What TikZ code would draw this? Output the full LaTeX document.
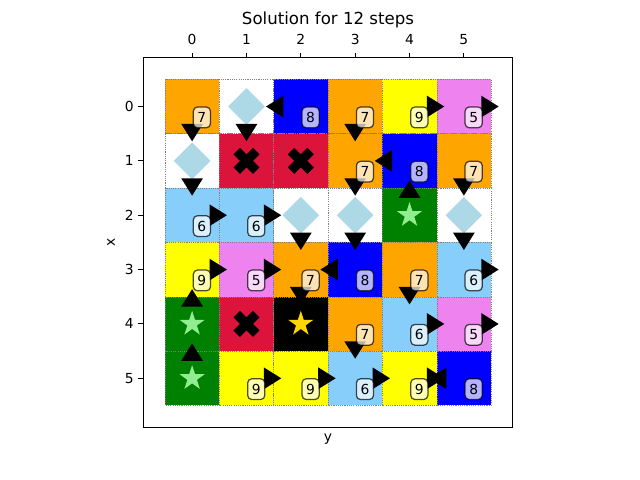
\documentclass[tikz,border=0pt]{standalone}
\usepackage{fontspec}
\setmainfont{DejaVu Sans}
\usetikzlibrary{calc}

\definecolor{mplorange}{HTML}{FFA500}
\definecolor{mplblue}{HTML}{0000FF}
\definecolor{mplyellow}{HTML}{FFFF00}
\definecolor{mplviolet}{HTML}{EE82EE}
\definecolor{mplcrimson}{HTML}{DC143C}
\definecolor{mplsky}{HTML}{87CEFA}
\definecolor{mplgreen}{HTML}{008000}
\definecolor{mpllightblue}{HTML}{ADD8E6}
\definecolor{mpllightgreen}{HTML}{90EE90}
\definecolor{mplgold}{HTML}{FFD700}

\begin{document}
\begin{tikzpicture}[
  x=1.38057cm, y=-1.38057cm,
  font=\fontsize{10}{12}\selectfont,
  cellbox/.style={draw=gray,line width=0.3pt,dash pattern=on 0.8pt off 0.8pt},
  numtag/.style={draw=black,draw opacity=0.7,fill=white,fill opacity=0.7,text opacity=1,rounded corners=3pt,line width=0.9pt,inner sep=0pt,minimum width=12.4pt,minimum height=15pt},
  pointer/.style={fill=black},
  ticklabel/.style={inner sep=0pt},
  frame/.style={draw=black,line width=0.8pt}
]
\useasboundingbox (-3.5346,-1.9597) rectangle (8.2403,6.8714);

% ===== Cells =====
\foreach \rowcols [count=\r from 0] in {
  {mplorange,white,mplblue,mplorange,mplyellow,mplviolet},
  {white,mplcrimson,mplcrimson,mplorange,mplblue,mplorange},
  {mplsky,mplsky,white,white,mplgreen,white},
  {mplyellow,mplviolet,mplorange,mplblue,mplorange,mplsky},
  {mplgreen,mplcrimson,black,mplorange,mplsky,mplviolet},
  {mplgreen,mplyellow,mplyellow,mplsky,mplyellow,mplblue}}{
  \foreach \cc [count=\c from 0] in \rowcols {
    \path[cellbox,fill=\cc] (\c-0.5,\r-0.5) rectangle (\c+0.5,\r+0.5);
  }
}

% ===== Markers =====
\foreach \c/\r in {1/0,0/1,2/2,3/2,5/2}
  \fill[mpllightblue] (\c,\r-0.337) -- (\c+0.337,\r) -- (\c,\r+0.337) -- (\c-0.337,\r) -- cycle;
\foreach \c/\r in {1/1,2/1,1/4}
  \fill[black] (\c-0.12,\r-0.24) -- (\c,\r-0.12) -- (\c+0.12,\r-0.24) -- (\c+0.24,\r-0.12)
    -- (\c+0.12,\r) -- (\c+0.24,\r+0.12) -- (\c+0.12,\r+0.24) -- (\c,\r+0.12)
    -- (\c-0.12,\r+0.24) -- (\c-0.24,\r+0.12) -- (\c-0.12,\r) -- (\c-0.24,\r-0.12) -- cycle;
\foreach \c/\r/\sc in {4/2/mpllightgreen,0/4/mpllightgreen,0/5/mpllightgreen,2/4/mplgold}
  \fill[\sc] plot[samples at={0,...,9}] ({\c+(0.242-0.1496*mod(\x,2))*cos(-90+36*\x)},{\r+(0.242-0.1496*mod(\x,2))*sin(-90+36*\x)}) -- cycle;

% ===== Moves =====
\foreach \c/\r/\dx/\dy in {
  0/0/0/1,1/0/0/1,2/0/-1/0,3/0/0/1,4/0/1/0,5/0/1/0,
  0/1/0/1,3/1/0/1,4/1/-1/0,5/1/0/1,
  0/2/1/0,1/2/1/0,2/2/0/1,3/2/0/1,4/2/0/-1,5/2/0/1,
  0/3/1/0,1/3/1/0,2/3/0/1,3/3/-1/0,4/3/0/1,5/3/1/0,
  0/4/0/-1,3/4/0/1,4/4/1/0,5/4/1/0,
  0/5/0/-1,1/5/1/0,2/5/1/0,3/5/1/0,4/5/1/0,5/5/-1/0}
  \fill[pointer] ({\c+0.32*\dx-0.2*\dy},{\r+0.32*\dy+0.2*\dx})
    -- ({\c+0.32*\dx+0.2*\dy},{\r+0.32*\dy-0.2*\dx})
    -- ({\c+0.64*\dx},{\r+0.64*\dy}) -- cycle;

% ===== Costs =====
\foreach \c/\r/\v in {
  0/0/7,2/0/8,3/0/7,4/0/9,5/0/5,
  3/1/7,4/1/8,5/1/7,
  0/2/6,1/2/6,
  0/3/9,1/3/5,2/3/7,3/3/8,4/3/7,5/3/6,
  3/4/7,4/4/6,5/4/5,
  1/5/9,2/5/9,3/5/6,4/5/9,5/5/8}
  \node[numtag] (n-\r-\c) at (\c+0.18,\r+0.2) {\v};

% ===== Axes =====
\draw[frame] (-0.9,-0.9) rectangle (5.9,5.9);
\foreach \k in {0,...,5}{
  \draw[frame] (\k,-0.9) -- ++(0,3.5pt);
  \node[ticklabel,anchor=base] (tx-\k) at (\k,-1.132) {\k};
  \draw[frame] (-0.9,\k) -- ++(-3.5pt,0);
  \node[ticklabel,anchor=east] (ty-\k) at (-1.069,\k) {\k};
}
\node[anchor=base,font=\fontsize{12}{14}\selectfont] (title) at (2.5,-1.509) {Solution for 12 steps};
\node[ticklabel,rotate=90] (xlab) at (-1.492,2.5) {x};
\node[ticklabel,anchor=north] (ylab) at (2.5,6.025) {y};

\end{tikzpicture}
\end{document}
